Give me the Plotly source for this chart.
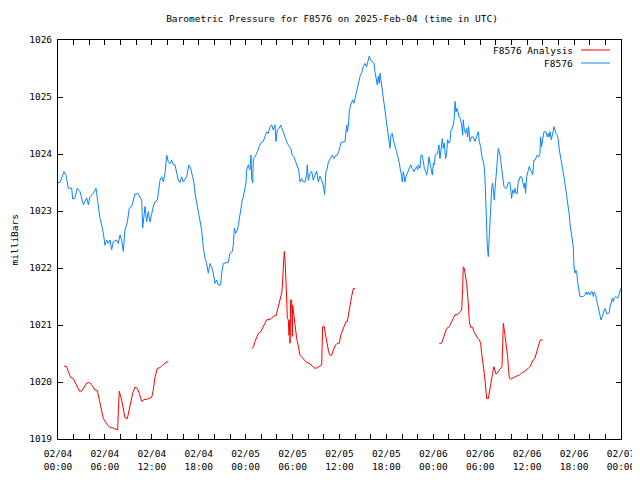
import pandas as pd
import plotly.graph_objects as go

BASE = "2025-02-04 00:00"

# Observed series (hours since 02/04 00:00 UTC, millibars)
obs_hours = [0.00, 0.26, 0.68, 0.75, 1.02, 1.32, 1.75, 1.88, 2.17, 2.47, 2.81, 3.03, 3.24, 3.67, 3.88, 4.09, 4.52, 4.86,
             5.03, 5.37, 5.59, 5.80, 6.01, 6.22, 6.44, 6.65, 6.86, 7.07, 7.50, 7.72, 7.93, 8.14, 8.35, 8.57, 8.87, 9.12,
             9.42, 9.63, 9.85, 10.27, 10.49, 10.70, 10.83, 11.13, 11.34, 11.55, 11.76, 11.98, 12.19, 12.40, 12.70, 12.83,
             13.04, 13.26, 13.47, 13.68, 13.90, 14.11, 14.32, 14.54, 14.75, 14.96, 15.17, 15.39, 15.60, 15.81, 16.03,
             16.45, 16.75, 16.96, 17.22, 17.39, 17.56, 17.73, 17.95, 18.16, 18.37, 18.58, 18.80, 19.01, 19.22, 19.44,
             19.65, 19.86, 20.08, 20.29, 20.50, 20.80, 20.93, 21.14, 21.57, 21.78, 21.99, 22.29, 22.42, 22.55, 22.72,
             22.93, 23.06, 23.19, 23.36, 23.57, 23.70, 23.91, 24.04, 24.13, 24.34, 24.46, 24.55, 24.68, 24.77, 24.90,
             24.98, 25.19, 25.41, 25.74, 25.92, 26.25, 26.47, 26.69, 26.89, 27.11, 27.33, 27.53, 27.75, 27.88, 28.04,
             28.30, 28.48, 28.73, 28.90, 29.16, 29.32, 29.58, 29.76, 29.96, 30.18, 30.40, 30.60, 30.78, 30.95, 31.16,
             31.37, 31.59, 31.80, 31.88, 32.01, 32.23, 32.44, 32.65, 32.86, 33.08, 33.29, 33.50, 33.72, 33.84, 34.02,
             34.10, 34.27, 34.44, 34.57, 34.87, 35.08, 35.29, 35.55, 35.72, 35.98, 36.19, 36.70, 36.92, 37.00, 37.13,
             37.25, 37.43, 37.69, 37.85, 38.30, 38.62, 38.83, 39.04, 39.26, 39.47, 39.68, 39.81, 39.98, 40.20, 40.41,
             40.54, 40.75, 40.84, 40.96, 41.09, 41.18, 41.30, 41.47, 41.69, 41.82, 41.94, 42.11, 42.24, 42.37, 42.46,
             42.58, 42.75, 42.88, 43.01, 43.18, 43.31, 43.52, 43.65, 43.82, 43.95, 44.03, 44.16, 44.29, 44.37, 44.50,
             44.67, 44.88, 45.10, 45.31, 45.52, 45.74, 45.87, 45.99, 46.08, 46.29, 46.42, 46.59, 46.72, 46.85, 47.02,
             47.14, 47.27, 47.44, 47.57, 47.70, 47.87, 48.00, 48.12, 48.25, 48.42, 48.55, 48.72, 48.85, 48.98, 49.15,
             49.28, 49.40, 49.57, 49.70, 49.83, 50.00, 50.13, 50.26, 50.43, 50.55, 50.68, 50.77, 50.90, 51.02, 51.15,
             51.28, 51.41, 51.62, 51.75, 51.83, 51.96, 52.13, 52.26, 52.39, 52.51, 52.69, 52.90, 53.11, 53.32, 53.54,
             53.75, 53.88, 54.05, 54.18, 54.31, 54.48, 54.60, 54.69, 54.82, 54.90, 55.03, 55.12, 55.24, 55.33, 55.46,
             55.58, 55.67, 55.80, 55.88, 56.01, 56.18, 56.31, 56.44, 56.61, 56.73, 56.86, 57.03, 57.20, 57.37, 57.59,
             57.80, 57.93, 58.01, 58.14, 58.31, 58.44, 58.57, 58.74, 58.87, 58.99, 59.08, 59.29, 59.51, 59.63, 59.72,
             59.80, 59.93, 60.06, 60.27, 60.44, 60.57, 60.70, 60.87, 61.00, 61.13, 61.30, 61.47, 61.64, 61.72, 61.85,
             61.98, 62.15, 62.40, 62.57, 62.70, 62.83, 62.92, 63.09, 63.26, 63.43, 63.55, 63.68, 63.85, 63.98, 64.11,
             64.28, 64.41, 64.54, 64.71, 64.83, 64.96, 65.13, 65.26, 65.39, 65.47, 65.60, 65.77, 65.90, 65.98, 66.11,
             66.24, 66.33, 66.45, 66.58, 66.67, 66.75, 66.97, 67.18, 67.39, 67.52, 67.69, 67.82, 68.03, 68.16, 68.33,
             68.46, 68.58, 68.76, 68.88, 69.01, 69.14, 69.31, 69.44, 69.61, 69.74, 69.86, 69.99, 70.16, 70.38, 70.50,
             70.59, 70.72, 70.89, 71.01, 71.14, 71.36, 71.57, 71.74, 71.87, 71.95]
obs_values = [1023.50, 1023.50, 1023.66, 1023.69, 1023.63, 1023.40, 1023.40, 1023.21, 1023.23, 1023.40, 1023.34, 1023.23,
              1023.11, 1023.23, 1023.11, 1023.25, 1023.31, 1023.40, 1023.19, 1022.87, 1022.75, 1022.61, 1022.40, 1022.49,
              1022.43, 1022.49, 1022.32, 1022.46, 1022.49, 1022.43, 1022.58, 1022.49, 1022.29, 1022.67, 1022.81, 1023.05,
              1023.08, 1023.19, 1023.30, 1023.30, 1023.23, 1023.19, 1022.70, 1023.08, 1022.81, 1022.99, 1022.81, 1022.96,
              1023.08, 1023.16, 1023.19, 1023.31, 1023.54, 1023.60, 1023.51, 1023.66, 1023.98, 1023.86, 1023.83, 1023.89,
              1023.81, 1023.81, 1023.69, 1023.54, 1023.50, 1023.60, 1023.51, 1023.60, 1023.81, 1023.75, 1023.60, 1023.49,
              1023.28, 1023.14, 1023.02, 1022.85, 1022.67, 1022.37, 1022.17, 1022.08, 1021.91, 1022.08, 1022.02, 1021.91,
              1021.73, 1021.79, 1021.70, 1021.70, 1021.91, 1022.08, 1022.10, 1022.10, 1022.26, 1022.29, 1022.40, 1022.70,
              1022.61, 1022.66, 1022.75, 1022.87, 1023.02, 1023.19, 1023.25, 1023.37, 1023.49, 1023.72, 1023.81, 1023.75,
              1023.72, 1023.98, 1023.57, 1023.49, 1023.92, 1023.95, 1024.01, 1024.13, 1024.19, 1024.22, 1024.30, 1024.39,
              1024.36, 1024.48, 1024.51, 1024.42, 1024.51, 1024.22, 1024.42, 1024.45, 1024.51, 1024.42, 1024.33, 1024.25,
              1024.19, 1024.13, 1024.10, 1023.98, 1023.95, 1023.86, 1023.78, 1023.72, 1023.51, 1023.57, 1023.51, 1023.51,
              1023.63, 1023.81, 1023.54, 1023.66, 1023.70, 1023.54, 1023.63, 1023.70, 1023.51, 1023.61, 1023.54, 1023.49,
              1023.37, 1023.29, 1023.69, 1023.75, 1023.86, 1023.92, 1023.98, 1023.92, 1023.98, 1023.98, 1024.07, 1024.20,
              1024.22, 1024.51, 1024.39, 1024.48, 1024.74, 1024.86, 1024.95, 1024.89, 1025.15, 1025.36, 1025.42, 1025.53,
              1025.59, 1025.53, 1025.65, 1025.72, 1025.65, 1025.62, 1025.59, 1025.44, 1025.30, 1025.21, 1025.36, 1025.24,
              1025.42, 1025.30, 1025.18, 1024.95, 1024.77, 1024.63, 1024.51, 1024.39, 1024.19, 1024.10, 1024.33, 1024.36,
              1024.25, 1024.16, 1024.10, 1024.04, 1023.92, 1023.84, 1023.69, 1023.63, 1023.51, 1023.69, 1023.60, 1023.51,
              1023.60, 1023.66, 1023.72, 1023.81, 1023.75, 1023.69, 1023.75, 1023.78, 1023.72, 1023.81, 1023.75, 1023.98,
              1023.98, 1023.84, 1023.75, 1023.69, 1023.63, 1023.72, 1023.95, 1023.84, 1023.75, 1023.63, 1023.84, 1023.81,
              1023.98, 1024.01, 1024.01, 1024.16, 1023.92, 1024.13, 1024.27, 1024.10, 1024.19, 1023.92, 1024.01, 1024.25,
              1024.19, 1024.22, 1024.42, 1024.45, 1024.51, 1024.63, 1024.92, 1024.74, 1024.80, 1024.74, 1024.65, 1024.63,
              1024.51, 1024.33, 1024.60, 1024.42, 1024.36, 1024.45, 1024.30, 1024.48, 1024.22, 1024.30, 1024.30, 1024.22,
              1024.30, 1024.39, 1024.22, 1024.13, 1023.98, 1023.89, 1023.81, 1023.60, 1023.19, 1022.90, 1022.40, 1022.20,
              1022.43, 1022.90, 1023.19, 1023.40, 1023.49, 1023.40, 1023.19, 1023.37, 1023.63, 1023.87, 1024.10, 1024.04,
              1023.92, 1023.75, 1023.63, 1023.43, 1023.40, 1023.40, 1023.50, 1023.50, 1023.34, 1023.22, 1023.37, 1023.31,
              1023.40, 1023.31, 1023.31, 1023.54, 1023.54, 1023.60, 1023.60, 1023.43, 1023.40, 1023.49, 1023.31, 1023.60,
              1023.66, 1023.78, 1023.72, 1023.69, 1023.63, 1023.89, 1023.89, 1023.92, 1023.98, 1023.95, 1024.01, 1024.30,
              1024.13, 1024.25, 1024.39, 1024.39, 1024.30, 1024.36, 1024.30, 1024.39, 1024.25, 1024.36, 1024.48, 1024.42,
              1024.36, 1024.33, 1024.25, 1024.07, 1023.95, 1023.87, 1023.75, 1023.60, 1023.49, 1023.37, 1023.19, 1023.05,
              1022.93, 1022.78, 1022.67, 1022.52, 1022.37, 1022.05, 1021.91, 1021.96, 1021.94, 1021.76, 1021.67, 1021.58,
              1021.50, 1021.50, 1021.50, 1021.53, 1021.58, 1021.53, 1021.58, 1021.53, 1021.58, 1021.58, 1021.50, 1021.58,
              1021.53, 1021.44, 1021.35, 1021.29, 1021.18, 1021.09, 1021.15, 1021.23, 1021.26, 1021.29, 1021.20, 1021.20,
              1021.23, 1021.32, 1021.38, 1021.47, 1021.41, 1021.47, 1021.50, 1021.47, 1021.53, 1021.58, 1021.64]

# Analysis series, three runs (hours since 02/04 00:00 UTC, millibars)
ana1_hours = [0.77, 1.11, 1.32, 1.62, 1.96, 2.30, 2.73, 3.03, 3.24, 3.67, 4.01, 4.31, 4.73, 5.03, 5.29, 5.58, 5.80,
              6.22, 6.65, 7.08, 7.63, 7.72, 7.84, 8.14, 8.35, 8.57, 8.87, 9.21, 9.55, 9.85, 10.14, 10.40, 10.70, 11.00,
              11.42, 11.98, 12.19, 12.40, 12.70, 13.04, 13.47, 13.90, 14.11]
ana1_values = [1020.28, 1020.27, 1020.18, 1020.08, 1020.06, 1019.95, 1019.84, 1019.84, 1019.89, 1019.98, 1019.99,
               1019.95, 1019.86, 1019.85, 1019.68, 1019.52, 1019.36, 1019.27, 1019.20, 1019.19, 1019.16, 1019.50,
               1019.84, 1019.68, 1019.54, 1019.37, 1019.36, 1019.57, 1019.80, 1019.91, 1019.89, 1019.80, 1019.66,
               1019.69, 1019.70, 1019.73, 1019.86, 1020.08, 1020.24, 1020.25, 1020.31, 1020.35, 1020.35]
ana2_hours = [24.77, 24.98, 25.19, 25.41, 25.62, 25.92, 26.17, 26.47, 26.68, 27.11, 27.32, 27.62, 27.88, 28.05, 28.30,
              28.47, 28.64, 28.73, 28.81, 28.94, 29.03, 29.11, 29.20, 29.33, 29.45, 29.54, 29.63, 29.67, 29.75, 29.88,
              29.97, 30.01, 30.09, 30.18, 30.31, 30.52, 30.73, 30.95, 31.16, 31.37, 31.59, 31.80, 32.10, 32.31, 32.57,
              32.86, 33.16, 33.42, 33.72, 33.84, 34.06, 34.23, 34.44, 34.61, 34.78, 35.00, 35.21, 35.51, 35.72, 35.98,
              36.15, 36.40, 36.62, 36.83, 37.00, 37.13, 37.34, 37.55, 37.77, 37.98]
ana2_values = [1020.59, 1020.61, 1020.71, 1020.80, 1020.85, 1020.88, 1020.96, 1021.03, 1021.09, 1021.10, 1021.12,
               1021.16, 1021.16, 1021.26, 1021.38, 1021.47, 1021.58, 1021.79, 1021.94, 1022.29, 1022.14, 1021.94,
               1021.61, 1021.12, 1021.09, 1020.82, 1021.09, 1020.68, 1021.44, 1021.44, 1020.80, 1021.35, 1021.26,
               1021.09, 1020.91, 1020.77, 1020.63, 1020.47, 1020.44, 1020.40, 1020.37, 1020.34, 1020.33, 1020.30,
               1020.27, 1020.24, 1020.25, 1020.28, 1020.30, 1020.97, 1020.97, 1020.82, 1020.65, 1020.53, 1020.47,
               1020.47, 1020.56, 1020.65, 1020.68, 1020.68, 1020.82, 1020.91, 1021.00, 1021.06, 1021.06, 1021.18,
               1021.32, 1021.50, 1021.64, 1021.64]
ana3_hours = [48.76, 49.06, 49.28, 49.49, 49.70, 50.04, 50.34, 50.55, 50.77, 51.07, 51.32, 51.62, 51.75, 51.83, 51.96,
              52.05, 52.26, 52.47, 52.60, 52.77, 53.03, 53.20, 53.45, 53.67, 53.88, 54.05, 54.18, 54.39, 54.52, 54.65,
              54.82, 55.03, 55.16, 55.33, 55.46, 55.58, 55.75, 55.88, 56.01, 56.18, 56.39, 56.61, 56.78, 56.86, 56.95,
              57.08, 57.20, 57.37, 57.50, 57.59, 57.71, 57.89, 58.14, 58.44, 58.74, 58.99, 59.29, 59.59, 59.93, 60.14,
              60.36, 60.57, 60.78, 61.00, 61.21, 61.42, 61.64, 61.98]
ana3_values = [1020.68, 1020.68, 1020.77, 1020.87, 1020.94, 1020.97, 1021.06, 1021.12, 1021.18, 1021.18, 1021.22,
               1021.26, 1021.64, 1022.02, 1021.99, 1021.91, 1021.73, 1021.38, 1021.06, 1020.96, 1020.96, 1020.88,
               1020.81, 1020.77, 1020.74, 1020.68, 1020.50, 1020.32, 1020.15, 1019.97, 1019.71, 1019.71, 1019.83,
               1019.93, 1020.04, 1020.15, 1020.27, 1020.18, 1020.14, 1020.16, 1020.21, 1020.24, 1020.27, 1020.65,
               1021.03, 1020.91, 1020.80, 1020.62, 1020.45, 1020.27, 1020.07, 1020.05, 1020.07, 1020.09, 1020.11,
               1020.12, 1020.16, 1020.18, 1020.21, 1020.24, 1020.27, 1020.33, 1020.39, 1020.42, 1020.53, 1020.62,
               1020.73, 1020.74]

# ticks every 2 hours, labelled every 6 hours
tick_hours = [0, 2, 4, 6, 8, 10, 12, 14, 16, 18, 20, 22, 24, 26, 28, 30, 32, 34, 36,
              38, 40, 42, 44, 46, 48, 50, 52, 54, 56, 58, 60, 62, 64, 66, 68, 70, 72]
tick_labels = ["02/04<br>00:00", "", "", "02/04<br>06:00", "", "", "02/04<br>12:00", "", "",
               "02/04<br>18:00", "", "", "02/05<br>00:00", "", "", "02/05<br>06:00", "", "",
               "02/05<br>12:00", "", "", "02/05<br>18:00", "", "", "02/06<br>00:00", "", "",
               "02/06<br>06:00", "", "", "02/06<br>12:00", "", "", "02/06<br>18:00", "", "",
               "02/07<br>00:00"]

base = pd.Timestamp(BASE)


def to_time(hours):
    return list(base + pd.to_timedelta(hours, unit="h"))


ana_x, ana_y = [], []
for hs, vs in [(ana1_hours, ana1_values), (ana2_hours, ana2_values), (ana3_hours, ana3_values)]:
    if ana_x:
        ana_x.append(None)
        ana_y.append(None)
    ana_x.extend(to_time(hs))
    ana_y.extend(vs)

RED = "#ff0000"
BLUE = "#0a84ff"
FONT = "DejaVu Sans Mono, monospace"
FS = 9.5

fig = go.Figure()
fig.add_trace(go.Scatter(x=to_time(obs_hours), y=obs_values, mode="lines", name="F8576",
                         line=dict(color=BLUE, width=1), showlegend=False))
fig.add_trace(go.Scatter(x=ana_x, y=ana_y, mode="lines", name="F8576 Analysis",
                         line=dict(color=RED, width=1), connectgaps=False, showlegend=False))

axis_common = dict(showline=True, linecolor="black", linewidth=1, mirror="ticks", ticks="inside",
                   ticklen=5, tickcolor="black", showgrid=False, zeroline=False,
                   tickfont=dict(family=FONT, size=FS, color="black"))

# page body has an 8px margin: size the figure so the plot area lands where the reference has it
fig.update_layout(
    width=632, height=472,
    margin=dict(l=50, r=19, t=32, b=41, autoexpand=False),
    paper_bgcolor="white", plot_bgcolor="white",
    title=dict(text="Barometric Pressure for F8576 on 2025-Feb-04 (time in UTC)",
               x=(332 - 8) / 632, xanchor="center", y=1 - 11 / 472, yanchor="middle",
               font=dict(family=FONT, size=FS, color="black")),
    xaxis=dict(type="date", range=[base, base + pd.Timedelta(hours=72)],
               tickvals=to_time(tick_hours), ticktext=tick_labels, ticklabelstandoff=6, **axis_common),
    yaxis=dict(range=[1019, 1026], dtick=1, tick0=1019, ticklabelstandoff=3, **axis_common),
)

fig.add_annotation(text="milliBars", xref="paper", yref="paper", x=(14 - 58) / 563, y=0.5,
                   textangle=-90, showarrow=False, xanchor="center", yanchor="middle",
                   font=dict(family=FONT, size=FS, color="black"))

# key (gnuplot style: text right-aligned, sample to the right)
key_rows = [("F8576 Analysis", RED, 50), ("F8576", BLUE, 63)]
for label, color, ypix in key_rows:
    yp = (439 - ypix) / 399
    fig.add_annotation(text=label, xref="paper", yref="paper", x=(575 - 58) / 563, y=yp,
                       showarrow=False, xanchor="right", yanchor="middle",
                       font=dict(family=FONT, size=FS, color="black"))
    fig.add_shape(type="line", xref="paper", yref="paper", x0=(581 - 58) / 563, x1=(610 - 58) / 563,
                  y0=yp, y1=yp, line=dict(color=color, width=1))

fig.write_html("out.html")
